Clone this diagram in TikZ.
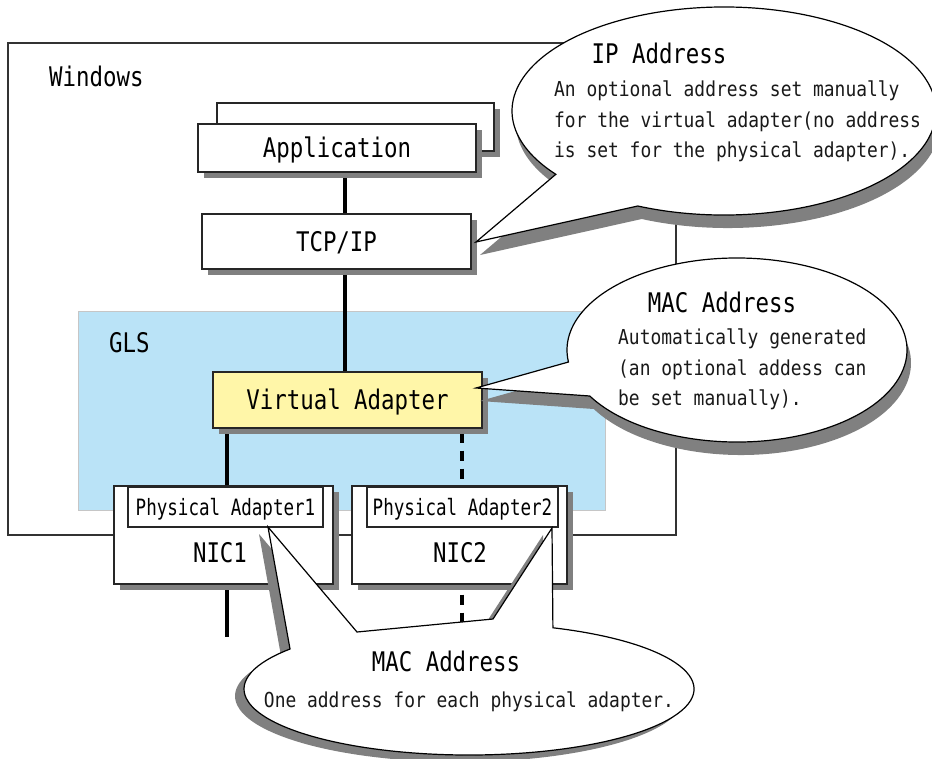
\documentclass[tikz,border=0pt]{standalone}
\usepackage{fontspec}
\usetikzlibrary{shadows,calc}
\newfontfamily\dgBig[FakeStretch=0.83]{DejaVu Sans Mono}
\newfontfamily\dgBody[FakeStretch=0.87]{DejaVu Sans Mono}
\newfontfamily\dgPhys[FakeStretch=0.78]{DejaVu Sans Mono}
\definecolor{glsblue}{RGB}{186,227,247}
\definecolor{vayellow}{RGB}{255,246,168}
\definecolor{shadowgray}{RGB}{128,128,128}
\pgfdeclarelayer{back}
\pgfdeclarelayer{links}
\pgfsetlayers{back,links,main}
\begin{document}
\begin{tikzpicture}[x=1pt,y=-1pt,
  boxshadow/.style={drop shadow={shadow xshift=6pt, shadow yshift=-6pt, fill=shadowgray, opacity=1}},
  layerbox/.style={draw=black!85, line width=1.3pt, fill=white, inner sep=0pt, boxshadow},
  boxtxt/.style={font=\dgBig\fontsize{27}{30}\selectfont, text height=19.7pt, text depth=0pt},
  bigtxt/.style={inner sep=0pt, boxtxt},
  bodytxt/.style={inner sep=0pt, font=\dgBody\fontsize{20.6}{24}\selectfont, text height=15pt, text depth=0pt, anchor=west, text=black!90},
  phystxt/.style={font=\dgPhys\fontsize{22.5}{24}\selectfont, text height=16.4pt, text depth=0pt},
  link/.style={line width=4pt, black},
  dotlink/.style={line width=4pt, black, dash pattern=on 10pt off 8pt, dash phase=-4pt},
  bubble/.style={fill=white, draw=black, line width=1.2pt, line join=miter},
  bubshadow/.style={fill=shadowgray},
]
\useasboundingbox (0,0) rectangle (932,758);

% containers
\begin{pgfonlayer}{back}
\fill[white] (0,0) rectangle (932,758);
\node[draw=black!80, line width=1.2pt, fill=white, minimum width=668pt, minimum height=492pt, inner sep=0pt] (win) at (342,289) {};
\node[bigtxt, anchor=west] (winlbl) at (49,77) {Windows};
\node[fill=glsblue, draw=gray!45, line width=0.8pt, minimum width=527pt, minimum height=199pt, inner sep=0pt] (gls) at (341.5,410.5) {};
\node[bigtxt, anchor=west] (glslbl) at (109,343) {GLS};
\end{pgfonlayer}

% layer boxes
\node[layerbox, minimum width=277pt, minimum height=48pt] (appback) at (355.5,127) {};
\node[layerbox, boxtxt, minimum width=278pt, minimum height=48pt] (app) at (337,148) {Application};
\node[layerbox, boxtxt, minimum width=269pt, minimum height=55pt] (tcp) at (336.5,241.5) {TCP/IP};
\node[layerbox, boxtxt, fill=vayellow, minimum width=269pt, minimum height=56pt] (va) at (347.5,400) {Virtual Adapter};

\node[layerbox, minimum width=219pt, minimum height=98pt] (nic1) at (223.5,535) {};
\node[draw=black!85, line width=1.3pt, fill=white, inner sep=0pt, minimum width=195pt, minimum height=40pt, phystxt] (pa1) at (225.5,507) {Physical Adapter1};
\node[bigtxt] (nic1lbl) at (220,553) {NIC1};

\node[layerbox, minimum width=215pt, minimum height=98pt] (nic2) at (459.5,535) {};
\node[draw=black!85, line width=1.3pt, fill=white, inner sep=0pt, minimum width=191pt, minimum height=40pt, phystxt] (pa2) at (462.5,507) {Physical Adapter2};
\node[bigtxt] (nic2lbl) at (460,553) {NIC2};

% connectors
\coordinate (sx) at (345,0);
\coordinate (n1x) at (227,0);
\coordinate (n2x) at (462,0);
\coordinate (n1end) at (227,637);
\coordinate (n2end) at (462,630);
\begin{pgfonlayer}{links}
\draw[link] (app.south -| sx) -- (tcp.north -| sx);
\draw[link] (tcp.south -| sx) -- (va.north -| sx);
\draw[link] (va.south -| n1x) -- (n1end);
\draw[dotlink] (va.south -| n2x) -- (n2end);
\end{pgfonlayer}

% callout tips and centres
\coordinate (ipc) at (724,111);
\coordinate (iptip) at (476,242);
\coordinate (macc) at (737,350);
\coordinate (mactip) at (476,388);
\coordinate (pmc) at (469,689);
\coordinate (pmtipa) at (268,527);
\coordinate (pmtipb) at (552,528);
\coordinate (pmbasea) at (357,632);
\coordinate (pmbaseb) at (493,619);

\def\ipbubble{($(ipc)+(142.5:212 and 104)$) -- (iptip) -- ($(ipc)+(114:212 and 104)$) arc[start angle=114, end angle=-217.5, x radius=212, y radius=104] -- cycle}
\def\macbubble{($(macc)+(172.5:170 and 92)$) -- (mactip) -- ($(macc)+(150:170 and 92)$) arc[start angle=150, end angle=-187.5, x radius=170, y radius=92] -- cycle}
\def\pmbubble{($(pmc)+(-142.7:225 and 66)$) -- (pmtipa) -- (pmbasea) -- (pmbaseb) -- (pmtipb) -- ($(pmc)+(-68.1:225 and 66)$) arc[start angle=-68.1, end angle=217.3, x radius=225, y radius=66] -- cycle}

% IP address callout
\fill[bubshadow, transform canvas={shift={(4pt,-13pt)}}] \ipbubble;
\path[bubble] \ipbubble;
\node[bigtxt] (iptitle) at (659,54) {IP Address};
\node[bodytxt] (ip1) at (554,89) {An optional address set manually};
\node[bodytxt] (ip2) at (554,120) {for the virtual adapter(no address};
\node[bodytxt] (ip3) at (554,150) {is set for the physical adapter).};

% MAC address callout (virtual adapter)
\fill[bubshadow, transform canvas={shift={(4pt,-13pt)}}] \macbubble;
\path[bubble] \macbubble;
\node[bigtxt] (mactitle) at (722,303) {MAC Address};
\node[bodytxt] (mac1) at (618,337) {Automatically generated};
\node[bodytxt] (mac2) at (618,368) {(an optional addess can};
\node[bodytxt] (mac3) at (618,398) {be set manually).};

% MAC address callout (physical adapters)
\fill[bubshadow, transform canvas={shift={(-9pt,-7pt)}}] \pmbubble;
\path[bubble] \pmbubble;
\node[bigtxt] (pmtitle) at (446,662) {MAC Address};
\node[bodytxt, anchor=center] (pm1) at (469,700) {One address for each physical adapter.};
\end{tikzpicture}
\end{document}
